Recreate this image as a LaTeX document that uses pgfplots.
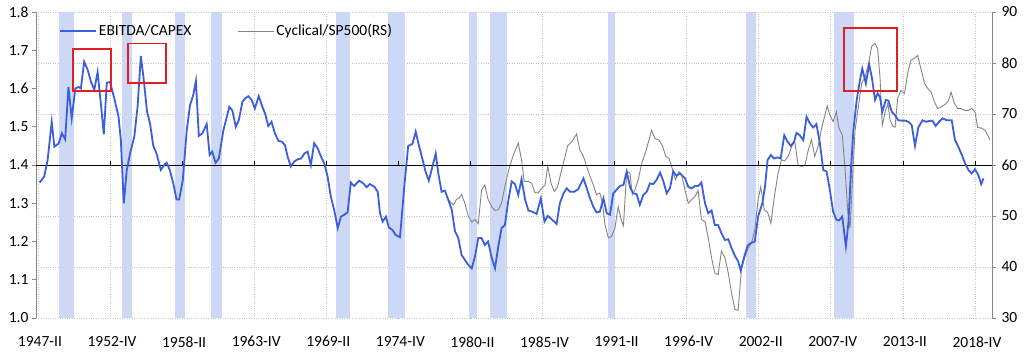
\documentclass[border=0pt]{standalone}
\usepackage{pgfplots}
\pgfplotsset{compat=1.18}
\usepackage{fontspec}
\setmainfont{Carlito}
\definecolor{bandblue}{RGB}{205,216,246}
\definecolor{lineblue}{RGB}{59,94,219}
\definecolor{linegray}{RGB}{132,132,132}
\definecolor{axgray}{RGB}{134,134,134}
\definecolor{gridgray}{RGB}{195,195,195}
\definecolor{boxred}{RGB}{225,30,35}
\begin{document}
\begin{tikzpicture}
\pgfplotsset{every axis/.append style={font=\fontsize{15.5bp}{18.5bp}\selectfont}}
% ---------- right axis: grid, recession bands, cyclical/SP500 ----------
\begin{axis}[
  at={(0,0)}, anchor=south west,
  scale only axis, width=956bp, height=306bp,
  xmin=-0.6, xmax=291.2, ymin=30, ymax=90,
  axis y line*=right, axis x line*=bottom,
  x axis line style={draw=none},
  y axis line style={draw=axgray, line width=0.8bp},
  xtick={0,22,...,286}, xticklabels={},
  x tick style={draw=none},
  ytick={30,40,50,60,70,80,90},
  y tick style={draw=axgray, line width=0.8bp},
  tick align=outside, major tick length=4bp,
  yticklabel style={xshift=2bp},
  /pgf/number format/assume math mode=true,
  grid=major, grid style={dotted, gridgray, line width=0.8bp},
  legend columns=2,
  legend style={draw=none, fill=none, at={(0.024,0.938)}, anchor=west,
    inner sep=0pt, nodes={inner sep=2bp},
    /tikz/every even column/.append style={column sep=44bp}},
  legend image code/.code={\draw[#1] (0bp,0bp) -- (36bp,0bp);},
]
% recession bands (quarter index, 1947-II = 0)
\addplot[fill=bandblue, draw=none, forget plot] coordinates {(6.4,30)(6.4,90)(11.0,90)(11.0,30)} -- cycle;
\addplot[fill=bandblue, draw=none, forget plot] coordinates {(25.6,30)(25.6,90)(28.7,90)(28.7,30)} -- cycle;
\addplot[fill=bandblue, draw=none, forget plot] coordinates {(41.8,30)(41.8,90)(44.9,90)(44.9,30)} -- cycle;
\addplot[fill=bandblue, draw=none, forget plot] coordinates {(52.8,30)(52.8,90)(56.2,90)(56.2,30)} -- cycle;
\addplot[fill=bandblue, draw=none, forget plot] coordinates {(91.0,30)(91.0,90)(95.2,90)(95.2,30)} -- cycle;
\addplot[fill=bandblue, draw=none, forget plot] coordinates {(106.8,30)(106.8,90)(112.0,90)(112.0,30)} -- cycle;
\addplot[fill=bandblue, draw=none, forget plot] coordinates {(131.6,30)(131.6,90)(134.0,90)(134.0,30)} -- cycle;
\addplot[fill=bandblue, draw=none, forget plot] coordinates {(138.0,30)(138.0,90)(143.2,90)(143.2,30)} -- cycle;
\addplot[fill=bandblue, draw=none, forget plot] coordinates {(174.0,30)(174.0,90)(176.1,90)(176.1,30)} -- cycle;
\addplot[fill=bandblue, draw=none, forget plot] coordinates {(216.1,30)(216.1,90)(219.2,90)(219.2,30)} -- cycle;
\addplot[fill=bandblue, draw=none, forget plot] coordinates {(243.0,30)(243.0,90)(249.1,90)(249.1,30)} -- cycle;
\addlegendimage{lineblue, line width=1.8bp}
\addlegendentry{EBITDA/CAPEX}
\addplot[linegray, line width=0.9bp] coordinates {
(124.7,53.8)(125.8,52.8)(126.8,52.2)(127.8,53.3)(128.5,53.5)(129.3,54.2)(130.3,52.5)(131.4,49.9)
(132.4,48.8)(133.4,49.3)(134.4,48.5)(135.4,55.1)(136.4,56.1)(137.4,53.2)(138.5,51.8)(139.5,51.1)
(140.5,51.2)(141.5,52.5)(142.5,55.7)(143.8,59.3)(145.1,62.0)(146.6,64.3)(147.6,61.0)(148.4,56.8)
(149.7,56.8)(150.7,56.4)(151.7,54.6)(152.7,54.5)(153.7,55.4)(154.8,56.1)(155.6,59.8)(156.6,56.4)
(157.6,54.8)(158.6,55.7)(159.8,59.0)(160.9,61.7)(161.7,63.8)(162.7,64.4)(163.7,65.3)(164.4,66.1)
(165.4,62.9)(166.5,61.7)(167.5,59.7)(168.5,57.8)(169.5,56.1)(170.5,54.2)(171.5,54.5)(172.3,52.5)
(173.1,48.2)(174.1,45.7)(175.1,46.0)(176.1,47.6)(177.1,51.8)(178.2,48.9)(178.7,48.1)(179.7,58.7)
(180.7,58.4)(181.4,54.2)(182.2,55.1)(183.2,57.1)(184.3,60.3)(185.5,62.6)(186.5,64.9)(187.3,66.8)
(188.3,65.2)(189.5,64.9)(190.6,63.8)(191.6,61.7)(192.6,61.3)(193.6,59.3)(194.6,57.1)(195.6,58.7)
(196.4,58.1)(197.5,55.1)(198.5,52.5)(199.5,53.2)(200.5,53.8)(201.5,55.0)(202.5,49.3)(203.6,48.9)
(204.6,45.7)(205.6,41.8)(206.6,38.8)(207.6,38.5)(208.6,43.1)(209.7,41.8)(210.7,38.8)(211.7,34.9)
(212.7,31.7)(213.7,31.5)(214.7,39.5)(215.8,42.1)(216.8,43.7)(217.8,44.7)(218.8,47.3)(219.8,53.2)
(220.6,55.7)(221.7,51.2)(222.7,50.7)(223.7,48.6)(224.7,53.5)(225.9,58.4)(226.9,61.0)(227.9,60.8)
(229.0,61.7)(230.0,63.6)(231.0,64.6)(232.0,60.0)(233.1,59.7)(234.1,60.0)(235.1,62.9)(236.1,65.0)
(237.1,61.7)(238.1,63.6)(239.2,67.2)(240.2,69.8)(240.9,71.6)(241.7,69.8)(242.7,68.5)(243.7,70.4)
(244.5,67.2)(245.5,65.9)(246.4,58.7)(247.2,50.6)(247.9,47.6)(248.6,57.1)(249.4,66.8)(250.4,71.4)
(251.4,76.0)(252.5,77.3)(253.5,79.9)(254.5,83.3)(255.5,83.8)(256.3,82.8)(257.0,77.3)(257.7,67.8)
(258.6,70.4)(259.4,72.1)(260.1,68.8)(260.8,67.7)(261.6,67.4)(262.4,73.1)(263.4,74.6)(264.5,74.0)
(265.5,78.2)(266.5,80.6)(267.5,80.9)(268.5,81.5)(269.5,78.9)(270.6,76.0)(271.6,75.0)(272.6,74.3)
(273.6,72.4)(274.6,71.1)(275.7,71.4)(276.9,71.9)(277.9,72.6)(278.7,74.3)(279.7,72.1)(280.7,71.1)
(281.7,71.1)(282.8,70.7)(284.0,70.7)(285.0,71.1)(286.0,70.4)(286.8,67.4)(288.1,67.2)(289.1,66.8)
(290.6,64.9)};
\addlegendentry{Cyclical/SP500(RS)}
\end{axis}
% ---------- left axis: EBITDA/CAPEX ----------
\begin{axis}[
  at={(0,0)}, anchor=south west,
  scale only axis, width=956bp, height=306bp,
  xmin=-0.6, xmax=291.2, ymin=1.0, ymax=1.8,
  axis y line*=left, axis x line*=bottom,
  x axis line style={draw=none},
  y axis line style={draw=axgray, line width=0.8bp},
  xtick={0,22,...,286},
  xticklabels={1947-II,1952-IV,1958-II,1963-IV,1969-II,1974-IV,1980-II,1985-IV,1991-II,1996-IV,2002-II,2007-IV,2013-II,2018-IV},
  x tick style={draw=none},
  xticklabel style={yshift=-11bp, xshift=2bp},
  ytick={1.0,1.1,1.2,1.3,1.4,1.5,1.6,1.7,1.8},
  y tick style={draw=axgray, line width=0.8bp},
  tick align=outside, major tick length=4bp,
  yticklabel style={/pgf/number format/.cd, fixed, fixed zerofill, precision=1},
  /pgf/number format/assume math mode=true,
]
\draw[black, line width=0.9bp] (rel axis cs:0,0.5) -- (rel axis cs:1,0.5);
\pgfplotsinvokeforeach{22,44,...,286}{\draw[black, line width=0.8bp] (axis cs:#1,1.4) -- ++(0bp,4bp);}
\addplot[lineblue, line width=1.8bp] coordinates {
(0.5,1.354)(1.9,1.37)(2.95,1.413)(4.2,1.513)(5.0,1.448)(6.3,1.456)(7.3,1.483)(8.3,1.467)
(9.3,1.604)(10.3,1.522)(11.4,1.60)(12.4,1.604)(13.1,1.60)(14.1,1.67)(15.2,1.648)(16.2,1.617)
(17.2,1.597)(18.2,1.643)(19.2,1.56)(20.1,1.48)(21.0,1.615)(22.0,1.617)(23.3,1.574)(24.6,1.526)
(25.3,1.465)(26.2,1.30)(27.1,1.387)(28.1,1.43)(29.4,1.474)(30.4,1.552)(31.4,1.685)(32.2,1.63)
(33.3,1.539)(34.2,1.509)(35.2,1.45)(36.2,1.43)(37.5,1.387)(38.5,1.40)(39.3,1.406)(40.3,1.385)
(41.3,1.352)(42.3,1.31)(43.1,1.31)(44.2,1.36)(45.4,1.49)(46.4,1.556)(47.4,1.583)(48.2,1.62)
(49.1,1.476)(50.2,1.483)(51.5,1.507)(52.4,1.426)(53.2,1.435)(54.2,1.406)(55.2,1.417)(56.6,1.491)
(57.6,1.524)(58.4,1.552)(59.3,1.543)(60.4,1.50)(61.3,1.517)(62.4,1.565)(63.2,1.574)(64.2,1.58)
(65.2,1.57)(66.2,1.548)(67.4,1.58)(68.5,1.552)(69.3,1.535)(70.3,1.502)(71.3,1.513)(72.3,1.483)
(73.4,1.463)(74.4,1.461)(75.4,1.452)(76.2,1.422)(77.2,1.396)(78.2,1.409)(79.3,1.415)(80.3,1.417)
(81.3,1.43)(82.3,1.435)(83.3,1.40)(84.3,1.457)(85.4,1.443)(86.4,1.422)(87.4,1.404)(88.4,1.37)
(89.4,1.317)(90.4,1.283)(91.5,1.235)(92.5,1.265)(93.5,1.27)(94.5,1.276)(95.5,1.354)(96.5,1.345)
(98.0,1.359)(99.3,1.352)(100.3,1.342)(101.3,1.35)(102.7,1.343)(103.7,1.33)(104.4,1.274)(105.2,1.252)
(106.2,1.265)(107.1,1.237)(108.2,1.23)(109.2,1.217)(110.5,1.211)(111.8,1.343)(113.0,1.45)(114.3,1.455)
(115.3,1.487)(116.3,1.45)(117.3,1.417)(118.3,1.383)(119.3,1.359)(120.4,1.396)(121.4,1.43)(122.2,1.378)
(123.2,1.33)(124.2,1.333)(125.2,1.31)(126.3,1.283)(127.3,1.226)(128.3,1.209)(129.3,1.165)(130.3,1.152)
(131.3,1.139)(132.4,1.13)(133.4,1.161)(134.4,1.209)(135.4,1.209)(136.4,1.191)(137.4,1.20)(138.5,1.157)
(139.5,1.13)(140.5,1.187)(141.5,1.235)(142.5,1.243)(143.6,1.309)(144.6,1.357)(145.6,1.35)(146.6,1.322)
(147.6,1.363)(148.7,1.309)(149.7,1.281)(150.9,1.278)(152.2,1.272)(153.5,1.313)(154.6,1.252)(155.6,1.267)
(156.8,1.258)(158.3,1.246)(159.3,1.30)(160.4,1.326)(161.4,1.339)(162.4,1.33)(163.7,1.33)(164.9,1.337)
(166.5,1.365)(167.5,1.339)(168.5,1.313)(169.5,1.291)(170.5,1.276)(171.5,1.278)(172.6,1.313)(173.6,1.274)
(174.6,1.27)(175.6,1.326)(176.6,1.335)(177.6,1.345)(178.7,1.348)(179.7,1.383)(180.7,1.343)(181.7,1.326)
(182.7,1.324)(183.7,1.296)(184.8,1.322)(185.8,1.33)(186.8,1.352)(187.8,1.35)(188.8,1.361)(189.9,1.38)
(190.9,1.357)(191.9,1.326)(192.9,1.339)(193.9,1.383)(194.9,1.372)(196.0,1.378)(197.5,1.365)(198.5,1.343)
(199.5,1.339)(200.5,1.345)(201.5,1.345)(202.5,1.354)(203.6,1.30)(204.6,1.274)(205.6,1.281)(206.6,1.243)
(207.6,1.243)(208.6,1.222)(209.7,1.204)(210.7,1.206)(211.7,1.183)(212.7,1.163)(213.7,1.148)(214.5,1.124)
(215.6,1.161)(216.6,1.189)(217.6,1.196)(218.8,1.20)(219.8,1.265)(221.1,1.30)(221.9,1.343)(222.7,1.413)
(223.7,1.426)(224.7,1.417)(225.7,1.42)(226.7,1.417)(227.8,1.478)(228.8,1.461)(229.8,1.45)(230.8,1.461)
(231.5,1.484)(232.5,1.478)(233.6,1.465)(234.6,1.526)(235.6,1.509)(236.6,1.498)(237.6,1.507)(238.6,1.461)
(239.7,1.387)(240.7,1.383)(241.7,1.335)(242.7,1.278)(243.7,1.257)(244.5,1.255)(245.5,1.265)(246.6,1.187)
(247.4,1.252)(248.2,1.396)(248.9,1.491)(249.9,1.57)(250.9,1.622)(251.6,1.652)(252.7,1.613)(253.7,1.663)
(254.5,1.63)(255.5,1.57)(256.3,1.587)(257.0,1.578)(257.7,1.539)(258.8,1.57)(259.6,1.568)(260.6,1.539)
(261.6,1.53)(262.6,1.517)(263.6,1.516)(264.7,1.516)(265.7,1.513)(266.7,1.504)(267.7,1.45)(268.7,1.498)
(270.0,1.517)(271.0,1.513)(272.0,1.515)(273.0,1.516)(274.0,1.502)(275.0,1.513)(276.1,1.522)(277.4,1.517)
(278.9,1.517)(279.9,1.465)(280.9,1.448)(282.0,1.426)(283.0,1.404)(284.0,1.387)(285.0,1.378)(286.0,1.389)
(287.0,1.374)(287.9,1.35)(288.6,1.365)};
\draw[boxred, line width=1.5bp] (axis cs:10.7,1.703) rectangle (axis cs:22.3,1.593);
\draw[boxred, line width=1.5bp] (axis cs:27.5,1.718) rectangle (axis cs:39.1,1.614);
\draw[boxred, line width=1.5bp] (axis cs:246.0,1.758) rectangle (axis cs:262.2,1.593);
\end{axis}
\pgfresetboundingbox
\path[use as bounding box] (-36bp,-35bp) rectangle (988bp,318bp);
\end{tikzpicture}
\end{document}
